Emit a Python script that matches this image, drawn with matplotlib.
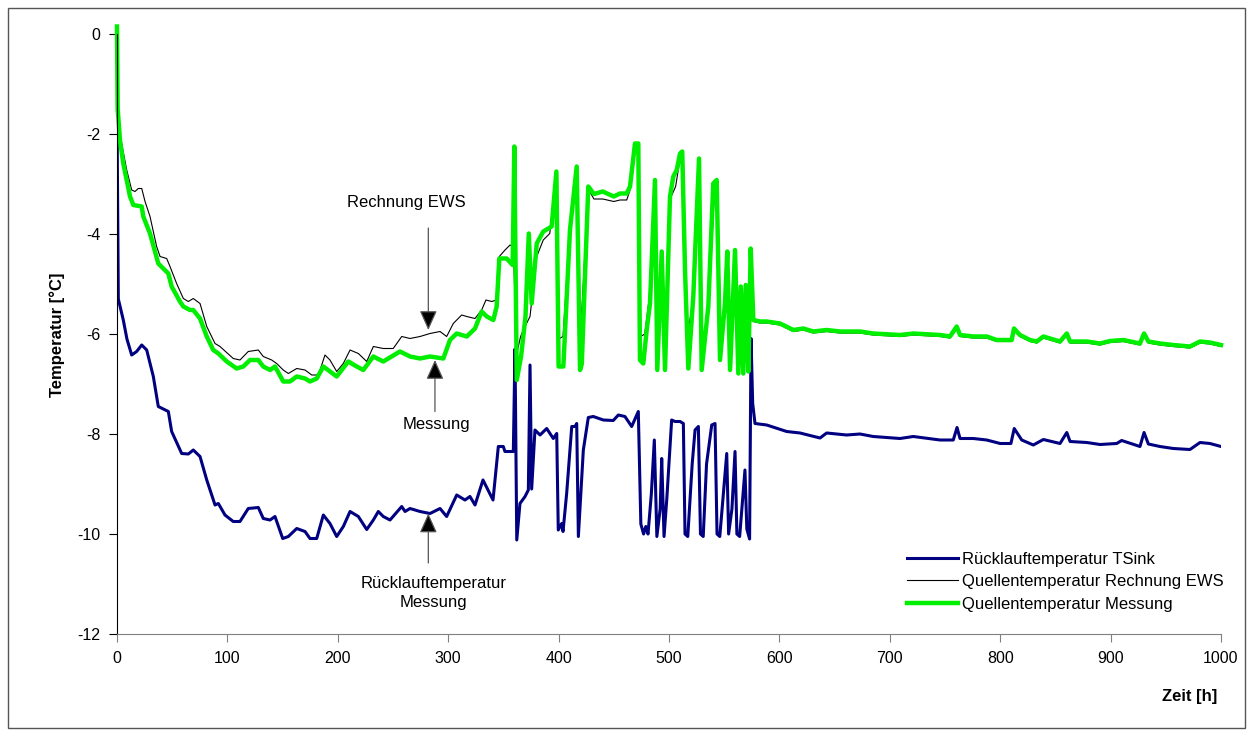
import matplotlib
matplotlib.use("Agg")
import matplotlib.pyplot as plt
from matplotlib.patches import Rectangle

plt.rcParams["font.family"] = ["Liberation Sans", "DejaVu Sans"]
plt.rcParams["axes.unicode_minus"] = False

# Rücklauftemperatur TSink (blue)
sink_t = [0, 1.2, 5.7, 9, 13.3, 17.8, 22.4, 26.9, 32.9, 37.4, 46.5, 49.5, 58.6, 64.6, 69.1,
          75.2, 81.3, 88.8, 91.8, 97.8, 105.3, 111.4, 118.9, 128.0, 132.5, 138.6, 143.1,
          150.1, 155.2, 162.8, 170.3, 174.8, 180.9, 186.9, 192.9, 199.0, 205.0, 211.1,
          218.6, 226.2, 232.2, 236.7, 241.2, 247.3, 257.9, 260.9, 265.4, 274.5, 283.5,
          292.6, 298.6, 307.7, 315.2, 319.7, 324.3, 331.5, 336, 340.6, 345.4, 349.9, 351.4,
          359.0, 360.5, 362.1, 365.0, 369.6, 372.6, 374.1, 375.6, 378.6, 383.2, 389.2,
          395.2, 398.3, 399.7, 402.8, 404, 407.3, 411.9, 414.9, 416.4, 417.9, 422.4, 426.9,
          431.4, 440.5, 449.5, 454.1, 460.1, 466.2, 472.2, 474.5, 477, 479, 481, 484, 486.7,
          489, 492, 493.4, 495.5, 498, 502.4, 505.4, 510, 513, 514.5, 517, 521, 523.6, 526.6,
          528.5, 531, 534, 538.7, 541.7, 543.5, 546, 550, 552.3, 554, 557, 559.8, 561.5, 564,
          566, 568.8, 570.5, 573, 574.3, 575.8, 577.9, 588.5, 606.6, 618.7, 636.8, 642.8,
          660.9, 673, 685, 709.2, 721.3, 745.5, 757.5, 760.9, 763.6, 775.6, 787.8, 800,
          809.7, 812.7, 819.5, 830, 839.1, 854.2, 860.3, 863.3, 878.4, 890.4, 905.5, 910,
          926.6, 930.3, 934.2, 944.7, 956.8, 971.9, 981, 990, 1000]
sink_v = [-1.6, -5.3, -5.72, -6.1, -6.42, -6.35, -6.22, -6.32, -6.85, -7.45, -7.55, -7.95,
          -8.39, -8.4, -8.32, -8.45, -8.92, -9.42, -9.39, -9.62, -9.75, -9.75, -9.49, -9.47,
          -9.69, -9.72, -9.65, -10.09, -10.05, -9.89, -9.95, -10.09, -10.09, -9.62, -9.79,
          -10.05, -9.85, -9.55, -9.65, -9.91, -9.72, -9.55, -9.65, -9.72, -9.45, -9.55,
          -9.49, -9.55, -9.59, -9.49, -9.65, -9.22, -9.32, -9.25, -9.42, -8.92, -9.12,
          -9.32, -8.25, -8.25, -8.35, -8.35, -6.3, -10.12, -9.39, -9.25, -9.12, -6.62,
          -9.1, -7.92, -8.02, -7.89, -8.09, -7.99, -9.92, -9.79, -9.95, -9.19, -7.85,
          -7.85, -7.79, -10.05, -8.32, -7.67, -7.65, -7.72, -7.73, -7.62, -7.65, -7.85,
          -7.55, -9.8, -10.0, -9.85, -10.0, -9.2, -8.12, -10.05, -9.5, -8.49, -10.05, -9.3,
          -7.72, -7.75, -7.75, -7.79, -10.0, -10.05, -8.6, -7.92, -7.85, -10.0, -10.05,
          -8.6, -7.82, -7.79, -10.0, -10.05, -9.0, -8.39, -10.0, -9.5, -8.35, -10.0,
          -10.05, -9.5, -8.72, -9.9, -10.1, -6.09, -7.39, -7.79, -7.82, -7.95, -7.98,
          -8.08, -7.98, -8.02, -8.0, -8.05, -8.09, -8.05, -8.12, -8.12, -7.87, -8.09,
          -8.09, -8.12, -8.19, -8.19, -7.89, -8.12, -8.22, -8.11, -8.19, -7.97, -8.15,
          -8.17, -8.21, -8.19, -8.13, -8.25, -7.97, -8.2, -8.25, -8.29, -8.31, -8.17,
          -8.19, -8.25]

# Quellentemperatur Rechnung EWS (black)
calc_t = [0, 0.5, 4.2, 8.8, 13.3, 16.3, 19.3, 22.4, 25.4, 29.9, 35.9, 39, 45, 48, 54, 60.1,
          64.6, 69.1, 75.2, 81.3, 88.8, 93.3, 105.3, 111.4, 118.9, 128, 132.5, 140.1, 144.6,
          150.6, 155.2, 162.8, 170.3, 176.4, 182.4, 188.4, 192.9, 199, 205, 211.1, 218.6,
          226.2, 232.2, 241.2, 250.2, 257.9, 265.4, 274.5, 283.5, 292.6, 298.6, 304.6,
          312.2, 316.8, 324.3, 330.3, 334.2, 339.4, 343.9, 346.3, 351.5, 356, 359, 362,
          365.6, 368, 374.1, 380.2, 386.1, 392, 397, 400, 404, 410, 416, 419.4, 426.9, 432,
          440, 450, 455.6, 461.7, 465, 469.5, 472, 474.5, 478, 482, 487.3, 490, 493.4, 497,
          501, 506, 510, 513, 516, 522, 527.2, 530, 536, 541, 544, 547, 551, 553, 555.5,
          560, 563, 565, 567.5, 569.5, 572, 574, 576.4, 582.4, 588.5, 600.6, 612.6, 621.6,
          630.7, 642.8, 654.9, 673, 685, 709.2, 721.3, 745.5, 754.5, 760.6, 763.6, 775.6,
          787.8, 796.8, 810.4, 812.5, 817.9, 827, 833.1, 839.1, 854.2, 860.3, 863.3,
          878.4, 890.4, 899.5, 911.5, 926.6, 930.3, 934.2, 944.7, 956.8, 971.9, 981, 990,
          1000]
calc_v = [-1.0, -1.72, -2.19, -2.72, -3.12, -3.15, -3.09, -3.09, -3.35, -3.65, -4.25, -4.45,
          -4.49, -4.65, -4.99, -5.29, -5.35, -5.29, -5.39, -5.85, -6.19, -6.25, -6.49,
          -6.52, -6.35, -6.32, -6.45, -6.52, -6.59, -6.72, -6.79, -6.69, -6.72, -6.82,
          -6.82, -6.42, -6.52, -6.75, -6.59, -6.32, -6.39, -6.55, -6.25, -6.29, -6.29,
          -6.05, -6.09, -6.05, -5.99, -5.95, -6.05, -5.79, -5.62, -5.65, -5.69, -5.52,
          -5.32, -5.35, -5.32, -4.45, -4.32, -4.22, -4.25, -6.4, -6.05, -5.92, -5.65,
          -4.45, -4.12, -3.99, -3.0, -6.1, -6.05, -4.0, -2.8, -6.2, -3.1, -3.3, -3.3,
          -3.35, -3.32, -3.32, -3.1, -2.3, -2.3, -6.05, -6.0, -5.3, -3.0, -6.2, -4.5,
          -6.3, -3.3, -3.05, -2.5, -2.5, -6.12, -5.3, -2.6, -6.3, -5.4, -3.25, -3.05,
          -6.2, -5.4, -4.5, -6.4, -4.5, -6.5, -5.2, -6.5, -5.15, -6.4, -4.4, -5.75, -5.78,
          -5.78, -5.82, -5.95, -5.92, -5.98, -5.95, -5.98, -5.98, -6.02, -6.05, -6.02,
          -6.05, -6.08, -5.9, -6.05, -6.08, -6.08, -6.15, -6.15, -5.93, -6.05, -6.15,
          -6.18, -6.08, -6.18, -6.03, -6.18, -6.18, -6.22, -6.17, -6.15, -6.22, -6.03,
          -6.18, -6.22, -6.25, -6.28, -6.18, -6.2, -6.25]

# Quellentemperatur Messung (green)
meas_t = [0, 0.6, 2.7, 5.7, 11.8, 14.8, 22.4, 23.8, 29.9, 37.4, 46.5, 49.5, 57, 60.1, 66.1,
          69.1, 75.2, 81.3, 87.2, 91.8, 99.4, 108.4, 114.4, 120.5, 128, 132.5, 138.6,
          143.1, 150.6, 156.7, 162.8, 170.3, 174.8, 180.9, 186.9, 192.9, 199, 209.5, 217.1,
          223.1, 232.2, 241.2, 256.3, 265.4, 274.5, 283.5, 295.6, 301.6, 307.7, 316.8,
          324.3, 330.3, 334.9, 340.9, 343.9, 346.3, 353, 358.4, 359.9, 362.1, 366, 370,
          373, 375.6, 380.2, 386.1, 393.7, 398, 400, 404.3, 410.3, 416.4, 419.4, 421,
          426.9, 432, 440, 450, 455.6, 461.7, 464.7, 469.2, 472.2, 473.7, 476.7, 479.8,
          482.8, 487.3, 489.4, 493.4, 496.4, 500.9, 503.9, 507, 510, 512, 514.5, 517.5,
          522, 527.2, 529.6, 535.6, 540.1, 543.2, 546.2, 550.7, 552.8, 555.3, 559.8,
          562.8, 565, 567.3, 569.5, 571.9, 574, 576.4, 582.4, 588.5, 600.6, 612.6, 621.6,
          630.7, 642.8, 654.9, 673, 685, 709.2, 721.3, 745.5, 754.5, 760.6, 763.6, 775.6,
          787.8, 796.8, 810.4, 812.5, 815, 817.9, 827, 833.1, 839.1, 854.2, 860.3, 863.3,
          878.4, 890.4, 899.5, 911.5, 926.6, 930.3, 934.2, 944.7, 956.8, 971.9, 981, 990,
          1000]
meas_v = [0.15, -1.5, -2.12, -2.59, -3.25, -3.42, -3.45, -3.65, -3.99, -4.59, -4.79, -5.05,
          -5.35, -5.45, -5.52, -5.52, -5.69, -6.05, -6.32, -6.39, -6.55, -6.69, -6.65,
          -6.52, -6.52, -6.65, -6.72, -6.65, -6.95, -6.95, -6.85, -6.89, -6.95, -6.89,
          -6.65, -6.75, -6.85, -6.55, -6.65, -6.72, -6.45, -6.55, -6.35, -6.45, -6.49,
          -6.45, -6.49, -6.12, -5.99, -6.05, -5.89, -5.55, -5.65, -5.72, -5.45, -4.49,
          -4.49, -4.62, -2.25, -6.92, -6.45, -5.65, -3.99, -5.39, -4.19, -3.95, -3.85,
          -2.75, -6.65, -6.65, -3.92, -2.65, -6.72, -6.6, -3.05, -3.2, -3.15, -3.25,
          -3.19, -3.19, -3.05, -2.19, -2.19, -6.52, -6.59, -5.92, -5.39, -2.92, -6.72,
          -4.35, -6.72, -3.25, -2.85, -2.72, -2.39, -2.35, -4.72, -6.69, -5.25, -2.49,
          -6.72, -5.45, -2.99, -2.92, -6.52, -5.39, -4.35, -6.72, -4.32, -6.79, -5.05,
          -6.79, -5.02, -6.75, -4.29, -5.72, -5.75, -5.75, -5.79, -5.92, -5.89, -5.95,
          -5.92, -5.95, -5.95, -5.99, -6.02, -5.99, -6.02, -6.05, -5.85, -6.02, -6.05,
          -6.05, -6.12, -6.12, -5.89, -5.95, -6.02, -6.12, -6.15, -6.05, -6.15, -5.99,
          -6.15, -6.15, -6.19, -6.14, -6.12, -6.19, -5.99, -6.15, -6.19, -6.22, -6.25,
          -6.15, -6.17, -6.22]

x_ticks = list(range(0, 1001, 100))
y_ticks = list(range(-12, 1, 2))

fig = plt.figure(figsize=(12.53, 7.36), dpi=100)
ax = fig.add_axes([117 / 1253, 1 - 634 / 736, 1104 / 1253, 600 / 736])

ax.plot(sink_t, sink_v, color="#000080", lw=2.2, label="Rücklauftemperatur TSink")
ax.plot(calc_t, calc_v, color="black", lw=0.8, label="Quellentemperatur Rechnung EWS")
ax.plot(meas_t, meas_v, color="#00ee00", lw=3.2, label="Quellentemperatur Messung",
        clip_on=False)

ax.set_xlim(0, 1000)
ax.set_ylim(-12, 0)
ax.set_xticks(x_ticks)
ax.set_yticks(y_ticks)
ax.tick_params(axis="both", direction="out", length=6, labelsize=11.5, pad=6)
ax.tick_params(axis="x", colors="#808080", labelcolor="black")
for s in ["top", "right"]:
    ax.spines[s].set_visible(False)
ax.spines["bottom"].set_color("#808080")

fig.text(57 / 1253, 1 - 335 / 736, "Temperatur [°C]", rotation=90, ha="center",
         va="center", fontsize=12, fontweight="bold")
fig.text(1190 / 1253, 1 - 697 / 736, "Zeit [h]", ha="center", va="center",
         fontsize=12, fontweight="bold")

arrow = dict(arrowstyle="-|>,head_length=1.0,head_width=0.45", mutation_scale=12,
             ec="#555555", fc="black", lw=0.9, shrinkA=0, shrinkB=0)
ax.annotate("", xy=(282, -5.92), xytext=(282, -3.88), arrowprops=arrow)
ax.text(262, -3.36, "Rechnung EWS", ha="center", va="center", fontsize=12)
ax.annotate("", xy=(288, -6.52), xytext=(288, -7.55), arrowprops=arrow)
ax.text(289, -7.82, "Messung", ha="center", va="center", fontsize=12)
ax.annotate("", xy=(282, -9.59), xytext=(282, -10.58), arrowprops=arrow)
ax.text(287, -11.18, "Rücklauftemperatur\nMessung", ha="center", va="center",
        fontsize=12, linespacing=1.3)

ax.legend(loc="upper left", bbox_to_anchor=(0.7156, 0.137), frameon=False, fontsize=12,
          handlelength=3.06, handletextpad=0.25, labelspacing=0.45, borderpad=0,
          borderaxespad=0)

fig.patches.append(Rectangle((8 / 1253, 8 / 736), 1237 / 1253, 720 / 736,
                             transform=fig.transFigure, fill=False, ec="#555555", lw=1))

fig.savefig("out.png", dpi=100)
